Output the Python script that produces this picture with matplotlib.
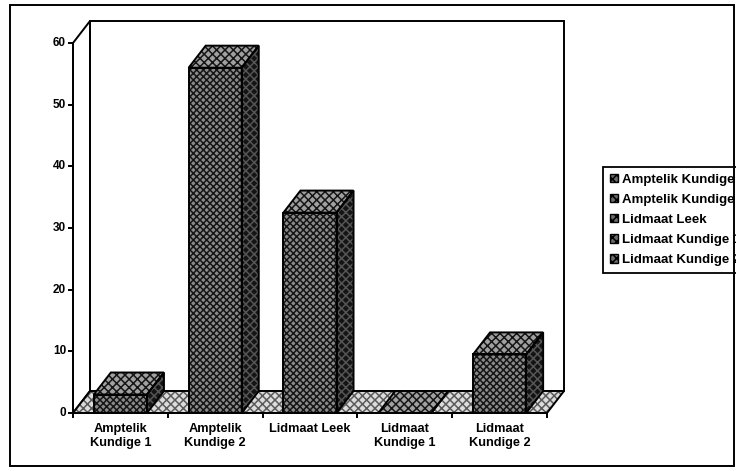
import matplotlib
matplotlib.use('Agg')
import matplotlib.pyplot as plt
from matplotlib.patches import Polygon, Rectangle, Patch

# ---- data ----
categories = ["Amptelik\nKundige 1", "Amptelik\nKundige 2", "Lidmaat Leek",
              "Lidmaat\nKundige 1", "Lidmaat\nKundige 2"]
legend_labels = ["Amptelik Kundige 1", "Amptelik Kundige 2", "Lidmaat Leek",
                 "Lidmaat Kundige 1", "Lidmaat Kundige 2"]
values = [3.0, 56.0, 32.5, 0.0, 9.5]
yticks = [0, 10, 20, 30, 40, 50, 60]

plt.rcParams['font.family'] = ['Liberation Sans', 'DejaVu Sans']
plt.rcParams['hatch.linewidth'] = 1.1

W, H = 736, 471
fig = plt.figure(figsize=(W / 100, H / 100), dpi=100)
ax = fig.add_axes([0, 0, 1, 1])

# layout (pixel geometry of the front plane)
x0_px, xn_px = 73, 547
y0_px, ytop_px = 413, 43
n = len(categories)
ymax = yticks[-1]
sx = (xn_px - x0_px) / n
sy = (y0_px - ytop_px) / ymax
ax.set_xlim(-x0_px / sx, (W - x0_px) / sx)
ax.set_ylim(-(H - y0_px) / sy, y0_px / sy)
ax.axis('off')

ddx = 17 / sx
ddy = 22 / sy


def face(pts, fc, hatch=None, hc='black', z=1):
    ax.add_patch(Polygon(pts, closed=True, facecolor=fc, edgecolor=hc,
                         hatch=hatch, linewidth=0, zorder=z))
    ax.add_patch(Polygon(pts, closed=True, fill=False, edgecolor='black',
                         linewidth=1.4, zorder=z + 0.5))


# walls
face([(0, 0), (0, ymax), (ddx, ymax + ddy), (ddx, ddy)], 'white', z=1)
face([(ddx, ddy), (n + ddx, ddy), (n + ddx, ymax + ddy), (ddx, ymax + ddy)], 'white', z=1)
# floor
face([(0, 0), (n, 0), (n + ddx, ddy), (ddx, ddy)], '#dcdcdc', hatch='xxxx', hc='#5a5a5a', z=2)

# bars
bw0, bw1 = 0.22, 0.78
for i, v in enumerate(values):
    xl, xr = i + bw0, i + bw1
    z = 3 + i
    face([(xr, 0), (xr + ddx, ddy), (xr + ddx, v + ddy), (xr, v)], '#141414', hatch='xxxx', hc='#555555', z=z)
    face([(xl, 0), (xr, 0), (xr, v), (xl, v)], '#8a8a8a', hatch='xxxxx', hc='#151515', z=z)
    face([(xl, v), (xr, v), (xr + ddx, v + ddy), (xl + ddx, v + ddy)], '#a0a0a0', hatch='xxxx', hc='#151515', z=z)

# axis lines and ticks
lk = dict(color='black', linewidth=1.4, zorder=20, solid_capstyle='butt')
ax.plot([0, 0], [-5 / sy, ymax], **lk)
ax.plot([0, n], [0, 0], **lk)
for t in yticks:
    ax.plot([-5 / sx, 0], [t, t], **lk)
    ax.text(-7 / sx, t, str(t), ha='right', va='center', fontsize=8.5,
            fontweight='bold', zorder=20)
for k in range(1, n + 1):
    ax.plot([k, k], [0, -5 / sy], **lk)
for i, c in enumerate(categories):
    ax.text(i + 0.5, -10 / sy, c, ha='center', va='top', fontsize=9.2,
            fontweight='bold', linespacing=1.25, zorder=20)

# legend
handles = [Patch(facecolor='#6a6a6a', edgecolor='black', hatch='xxxx', linewidth=1)
           for _ in legend_labels]
leg = ax.legend(handles, legend_labels, loc='upper left',
                bbox_to_anchor=(603 / W, 1 - 167 / H), bbox_transform=fig.transFigure,
                frameon=True, fancybox=False, edgecolor='black', framealpha=1,
                prop={'size': 9.5, 'weight': 'bold'}, handlelength=0.6, handleheight=0.6,
                handletextpad=0.35, labelspacing=0.62, borderpad=0.5, borderaxespad=0)
leg.get_frame().set_linewidth(1.3)

# outer frame
fig.add_artist(Rectangle((10 / W, 1 - 466 / H), (734 - 10) / W, (466 - 5) / H,
                         transform=fig.transFigure, fill=False, edgecolor='black',
                         linewidth=1.4))

fig.savefig('out.png', dpi=100)
